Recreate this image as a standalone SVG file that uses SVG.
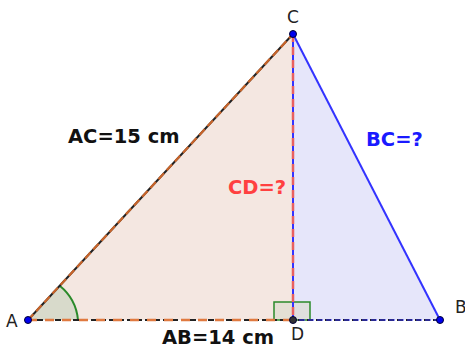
<svg xmlns="http://www.w3.org/2000/svg" width="465" height="347" viewBox="0 0 465 347">
<style>
.lbl{font-family:"DejaVu Sans",sans-serif;font-size:17px;fill:#222}
.b{font-family:"DejaVu Sans",sans-serif;font-size:19.5px;font-weight:bold}
.pt{stroke:#000033;stroke-width:1}
</style>
<rect width="465" height="347" fill="#fff"/>
<g id="fills">
<polygon points="28,320 293,34 293,320" fill="#f4e7e1"/>
<polygon points="293,34 440,320 293,320" fill="#e6e6fa"/>
<path d="M28,320 L59.7,285.8 A50,50 0 0 1 78,320 Z" fill="#d8dacb"/>
<path d="M59.7,285.8 A50,50 0 0 1 78,320" fill="none" stroke="#2a8a2a" stroke-width="2"/>
<rect x="274" y="302" width="36" height="18" fill="#d8dacb" fill-opacity="0.6" stroke="#2a8a2a" stroke-width="1.5"/>
</g>
<g id="connectors">
<line x1="28" y1="320" x2="293" y2="34" stroke="#222" stroke-width="2"/>
<line x1="28" y1="320" x2="293" y2="34" stroke="#c8642a" stroke-width="2.2" stroke-dasharray="8,4"/>
<line x1="293" y1="34" x2="440" y2="320" stroke="#3333ff" stroke-width="2"/>
<line x1="293" y1="34" x2="293" y2="320" stroke="#3333ff" stroke-width="2"/>
<line x1="293" y1="34" x2="293" y2="320" stroke="#e86060" stroke-width="2.5" stroke-dasharray="8,5"/>
<line x1="28" y1="320" x2="440" y2="320" stroke="#222" stroke-width="1.8" stroke-dasharray="6,3"/>
<line x1="28" y1="320" x2="293" y2="320" stroke="#e07a40" stroke-width="2.5" stroke-dasharray="9,8"/>
<line x1="293" y1="320" x2="440" y2="320" stroke="#3333ff" stroke-width="1.2" stroke-dasharray="6,3" stroke-dashoffset="3"/>
</g>
<g id="A"><circle class="pt" cx="28" cy="320" r="3.5" fill="#0000ee"/><text class="lbl" x="6" y="327">A</text></g>
<g id="B"><circle class="pt" cx="440" cy="320" r="3.5" fill="#0000ee"/><text class="lbl" x="455" y="313">B</text></g>
<g id="C"><circle class="pt" cx="293" cy="34" r="3.5" fill="#0000ee"/><text class="lbl" x="287" y="23">C</text></g>
<g id="D"><circle class="pt" cx="293" cy="320" r="3.5" fill="#333"/><text class="lbl" x="291" y="340">D</text></g>
<g id="labels">
<text class="b" x="68" y="143" fill="#111">AC=15 cm</text>
<text class="b" x="162" y="344" fill="#111">AB=14 cm</text>
<text class="b" x="228" y="194" fill="#ff4040">CD=?</text>
<text class="b" x="366" y="146" fill="#1a1aff">BC=?</text>
</g>
</svg>
